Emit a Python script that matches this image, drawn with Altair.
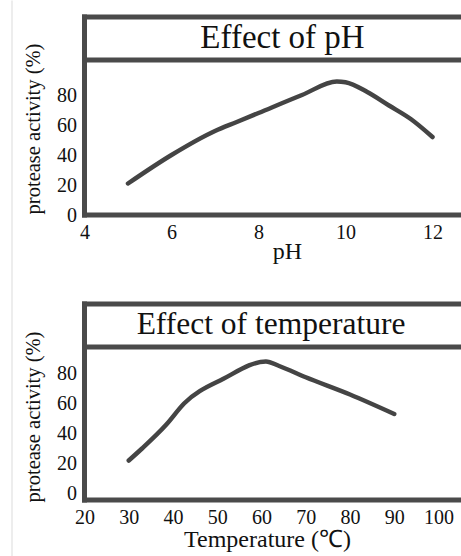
import altair as alt
import pandas as pd

# Protease activity (%) versus pH
ph_values = [5, 6, 7, 7.5, 8, 9, 9.8, 10, 10.5, 11, 11.5, 12]
ph_activity = [21, 40, 56, 62, 68, 80, 89, 88.5, 82, 73, 64, 52]

# Protease activity (%) versus temperature (°C)
temp_values = [30, 33, 38.5, 42.5, 51.4, 61, 64, 70, 80, 90]
temp_activity = [22, 30, 46, 60, 76.5, 88, 85, 77.5, 66, 53]

ph_ticks = [4, 6, 8, 10, 12]
temp_ticks = [20, 30, 40, 50, 60, 70, 80, 90, 100]
activity_ticks = [0, 20, 40, 60, 80]

SERIF = "Liberation Serif"
FRAME = "#4a4a4a"
LINE = "#444444"
W = 376.5
BAR = 2.5  # half thickness of the frame bars
LABEL_SIZE = 20

one = pd.DataFrame({"k": [0]})


def bar(x0, x1, y0, y1, color=FRAME):
    return alt.Chart(one).mark_rect(color=color, stroke=None).encode(
        x=alt.value(x0), x2=alt.value(x1), y=alt.value(y0), y2=alt.value(y1)
    )


def panel(xs, ys, xname, xdom, xticks, xtitle, xtitle_x, xtitle_y,
          ydom, H, title, title_x, title_y, title_size, ytitle_y, extra=None):
    df = pd.DataFrame({xname: xs, "activity": ys})
    curve = alt.Chart(df).mark_line(
        color=LINE, strokeWidth=4.5, interpolate="monotone",
        strokeCap="round", strokeJoin="round"
    ).encode(
        x=alt.X(f"{xname}:Q",
                scale=alt.Scale(domain=xdom, nice=False, zero=False),
                axis=alt.Axis(values=xticks, title=xtitle, titleX=xtitle_x,
                              titleY=xtitle_y, titleBaseline="alphabetic",
                              titleAlign="center", labelPadding=7,
                              labelFlush=False, labelFont=SERIF,
                              labelFontSize=LABEL_SIZE)),
        y=alt.Y("activity:Q",
                scale=alt.Scale(domain=ydom, nice=False, zero=False),
                axis=alt.Axis(values=activity_ticks,
                              title="protease activity (%)",
                              titleX=-51, titleY=ytitle_y, titleAngle=270,
                              titleBaseline="middle", titleAlign="center",
                              titleFontSize=20.5, labelPadding=8,
                              labelFlush=False, labelFont=SERIF,
                              labelFontSize=LABEL_SIZE)),
    )
    divider = 43
    frame = [
        bar(-BAR, BAR, -BAR, H + BAR),               # left edge
        bar(-BAR, W, -BAR, BAR),                     # top edge
        bar(-BAR, W, divider - BAR, divider + BAR),  # header divider
        bar(-BAR, W, H - BAR, H + BAR),              # bottom edge
    ]
    head = alt.Chart(one).mark_text(
        text=title, font=SERIF, fontSize=title_size, color="#111111",
        align="center", baseline="alphabetic"
    ).encode(x=alt.value(title_x), y=alt.value(title_y))
    layers = [curve] + frame + [head]
    if extra is not None:
        layers.append(extra)
    return alt.layer(*layers).properties(width=W, height=H)


# thin light rule along the left side of the page
side_rule = bar(-73, -72, -16.5, 539.5, color="#dcdcdc")

top = panel(ph_values, ph_activity, "pH", [4, 4 + W / 43.5], ph_ticks,
            "pH", 202.5, 43.5, [0, 132], 198,
            "Effect of pH", 198, 30.5, 33, 111.5, extra=side_rule)

bottom = panel(temp_values, temp_activity, "temperature",
               [20, 20 + W / 4.425], temp_ticks,
               "Temperature (℃)", 182.5, 46.5, [-4.33, 126.33], 196,
               "Effect of temperature", 186.5, 29.5, 31.5, 112.5)

chart = alt.vconcat(top, bottom, spacing=89, bounds="flush").configure(
    padding={"left": 11.5, "top": 0, "right": 0, "bottom": 0}
).configure_view(stroke=None).configure_axis(
    domain=False, ticks=False, grid=False,
    labelFont=SERIF, labelFontSize=LABEL_SIZE, labelColor="#111111",
    titleFont=SERIF, titleFontSize=24, titleColor="#111111",
    titleFontWeight="normal",
)

chart.save("out.html", embed_options={"renderer": "svg", "actions": False})
